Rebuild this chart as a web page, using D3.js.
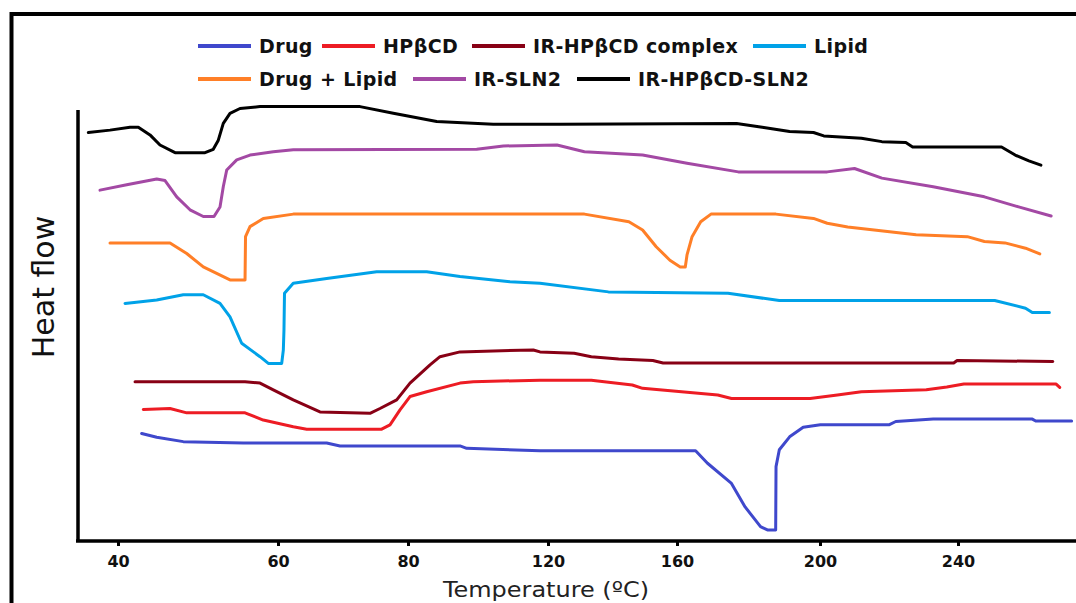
<!DOCTYPE html>
<html>
<head>
<meta charset="utf-8">
<script src="https://cdn.jsdelivr.net/npm/d3@7"></script>
<style>
  body { margin: 0; background: #fff; }
  svg { display: block; font-family: "DejaVu Sans", sans-serif; }
</style>
</head>
<body>
<svg id="dsc"></svg>
<script>
// tick labels on the temperature axis (spacing on the original figure is not even)
const tickTemps = [40, 60, 80, 120, 160, 200, 240];

// Drug
const drugT  = [42.96, 44.84, 48.16, 55.66, 67.49, 69.54, 94.86, 96.77, 117.71, 165.2, 168.53, 175.24, 179.05, 183.36, 185.29, 187.6, 187.7, 188.62, 191.5, 195.3, 200.09, 219.97, 221.97, 232.81, 261.54, 262.52, 272.93];
const drugHF = [2.24, 2.16, 2.07, 2.04, 2.04, 1.98, 1.98, 1.93, 1.88, 1.88, 1.62, 1.20, 0.71, 0.30, 0.23, 0.23, 1.55, 1.90, 2.17, 2.37, 2.42, 2.42, 2.49, 2.54, 2.54, 2.50, 2.50];

// HPβCD
const hpT  = [43.16, 46.5, 48.59, 55.88, 58.16, 62.35, 64.42, 75.95, 77.23, 78.77, 80.57, 85.34, 94.86, 98.66, 117.71, 133.43, 146.14, 149.33, 171.41, 175.24, 197.23, 205.04, 212.0, 230.81, 236.75, 241.7, 268.45, 269.48];
const hpHF = [2.74, 2.76, 2.67, 2.67, 2.52, 2.38, 2.33, 2.33, 2.42, 2.73, 3.01, 3.11, 3.29, 3.32, 3.35, 3.35, 3.25, 3.18, 3.04, 2.97, 2.97, 3.04, 3.11, 3.15, 3.21, 3.27, 3.27, 3.20];

// IR-HPβCD complex
const complexT  = [42.13, 55.88, 57.75, 59.41, 62.35, 66.46, 74.15, 75.69, 78.26, 80.57, 86.29, 89.14, 94.86, 115.8, 117.71, 128.12, 133.43, 141.89, 152.5, 155.69, 238.75, 239.74, 267.48];
const complexHF = [3.32, 3.32, 3.29, 3.15, 2.94, 2.69, 2.66, 2.76, 2.94, 3.29, 3.67, 3.84, 3.94, 3.98, 3.94, 3.91, 3.84, 3.79, 3.76, 3.71, 3.71, 3.76, 3.74];

// Lipid
const lipidT  = [40.88, 44.84, 48.16, 50.66, 52.75, 54.0, 55.46, 57.75, 58.79, 60.57, 60.82, 60.92, 61.0, 62.35, 67.49, 75.18, 85.34, 94.86, 109.14, 117.71, 138.73, 174.27, 188.62, 250.64, 259.57, 261.54, 266.49];
const lipidHF = [4.95, 5.02, 5.13, 5.13, 4.95, 4.67, 4.12, 3.84, 3.70, 3.70, 3.98, 4.40, 5.16, 5.37, 5.47, 5.61, 5.61, 5.51, 5.40, 5.37, 5.19, 5.16, 5.01, 5.01, 4.85, 4.76, 4.76];

// Drug + Lipid
const mixT  = [39.0, 46.5, 48.59, 50.66, 54.0, 55.88, 55.94, 56.5, 58.16, 62.35, 123.72, 131.29, 145.09, 149.33, 153.55, 157.8, 160.9, 162.32, 162.8, 164.22, 166.63, 169.51, 187.66, 198.18, 202.09, 208.03, 227.86, 242.72, 247.65, 253.62, 259.57, 263.71];
const mixHF = [6.21, 6.21, 5.99, 5.71, 5.44, 5.44, 6.34, 6.55, 6.72, 6.81, 6.81, 6.81, 6.65, 6.48, 6.13, 5.85, 5.71, 5.71, 5.96, 6.34, 6.65, 6.81, 6.81, 6.72, 6.62, 6.54, 6.38, 6.34, 6.24, 6.21, 6.10, 5.98];

// IR-SLN2
const slnT  = [37.75, 41.09, 44.84, 45.88, 47.34, 49.0, 50.66, 52.0, 52.75, 53.16, 53.59, 54.84, 56.5, 59.41, 62.35, 99.63, 107.23, 122.79, 131.29, 149.33, 162.8, 177.15, 202.09, 210.0, 217.94, 232.81, 247.65, 257.57, 266.99];
const slnHF = [7.31, 7.42, 7.54, 7.51, 7.17, 6.90, 6.76, 6.76, 6.96, 7.38, 7.73, 7.94, 8.04, 8.11, 8.15, 8.16, 8.23, 8.25, 8.11, 8.04, 7.87, 7.69, 7.69, 7.76, 7.56, 7.38, 7.17, 6.96, 6.77];

// IR-HPβCD-SLN2
const cdSlnT  = [36.29, 39.0, 41.5, 42.54, 44.0, 45.25, 47.13, 50.88, 51.91, 52.54, 53.16, 54.0, 55.25, 57.75, 72.62, 77.74, 88.2, 104.37, 123.72, 176.67, 183.83, 191.5, 198.18, 201.1, 212.0, 217.94, 224.87, 226.84, 252.61, 256.58, 260.55, 264.03];
const cdSlnHF = [8.51, 8.56, 8.62, 8.62, 8.46, 8.25, 8.09, 8.09, 8.16, 8.35, 8.70, 8.91, 9.01, 9.05, 9.05, 8.91, 8.74, 8.68, 8.68, 8.70, 8.62, 8.53, 8.51, 8.44, 8.39, 8.32, 8.30, 8.21, 8.21, 8.04, 7.92, 7.83];

const series = [
  {name: "Drug", t: drugT, hf: drugHF, color: "#3f48cc"},
  {name: "HPβCD", t: hpT, hf: hpHF, color: "#ed1c24"},
  {name: "IR-HPβCD complex", t: complexT, hf: complexHF, color: "#880015"},
  {name: "Lipid", t: lipidT, hf: lipidHF, color: "#00a2e8"},
  {name: "Drug + Lipid", t: mixT, hf: mixHF, color: "#ff7f27"},
  {name: "IR-SLN2", t: slnT, hf: slnHF, color: "#a349a4"},
  {name: "IR-HPβCD-SLN2", t: cdSlnT, hf: cdSlnHF, color: "#000000"}
];

const W = 1076, H = 603;
const margin = {top: 110, right: 0, bottom: 62, left: 78};
const height = H - margin.top - margin.bottom;

const svg = d3.select("#dsc")
  .attr("width", W)
  .attr("height", H);

// outer frame
svg.append("rect")
  .attr("x", 11.5)
  .attr("y", 14)
  .attr("width", W + 20)
  .attr("height", H + 20)
  .attr("fill", "none")
  .attr("stroke", "#000")
  .attr("stroke-width", 4);

const g = svg.append("g")
  .attr("transform", "translate(" + margin.left + "," + margin.top + ")");

// the temperature ticks are not evenly spaced, so a piecewise scale follows them
const x = d3.scaleLinear()
  .domain(tickTemps)
  .range([40, 200, 330, 470, 599, 742, 880]);

const y = d3.scaleLinear()
  .domain([0, 9])
  .range([height, -1]);

const line = d3.line()
  .x(d => x(d.t))
  .y(d => y(d.hf));

// axes
g.append("line")
  .attr("x1", 0).attr("x2", 0)
  .attr("y1", 0).attr("y2", height)
  .attr("stroke", "#000")
  .attr("stroke-width", 3.5);

g.append("line")
  .attr("x1", -2).attr("x2", W)
  .attr("y1", height).attr("y2", height)
  .attr("stroke", "#000")
  .attr("stroke-width", 3.5);

const xAxis = g.append("g")
  .attr("transform", "translate(0," + height + ")")
  .call(d3.axisBottom(x).tickValues(tickTemps).tickSize(5).tickPadding(10).tickSizeOuter(0));

xAxis.select(".domain").remove();
xAxis.selectAll(".tick line")
  .attr("stroke", "#000")
  .attr("stroke-width", 3);
xAxis.selectAll(".tick text")
  .attr("fill", "#111")
  .attr("font-family", "DejaVu Sans, sans-serif")
  .attr("font-weight", "bold")
  .attr("font-size", "16px");

// axis titles
svg.append("text")
  .attr("x", 546)
  .attr("y", 597)
  .attr("text-anchor", "middle")
  .attr("font-size", "21px")
  .attr("textLength", 206)
  .attr("lengthAdjust", "spacingAndGlyphs")
  .attr("fill", "#222")
  .text("Temperature (ºC)");

svg.append("text")
  .attr("transform", "translate(54,287) rotate(-90)")
  .attr("text-anchor", "middle")
  .attr("font-size", "30px")
  .attr("fill", "#111")
  .text("Heat flow");

// curves
g.selectAll(".curve")
  .data(series)
  .join("path")
    .attr("class", "curve")
    .attr("fill", "none")
    .attr("stroke", d => d.color)
    .attr("stroke-width", 3)
    .attr("stroke-linejoin", "round")
    .attr("stroke-linecap", "round")
    .attr("d", d => line(d.t.map((t, i) => ({t: t, hf: d.hf[i]}))));

// legend, two rows
const legendPos = [
  [198, 46], [322, 46], [472, 46], [753, 46],
  [198, 79], [413, 79], [577, 79]
];

const legend = svg.append("g")
  .selectAll("g")
  .data(series)
  .join("g")
    .attr("transform", (d, i) => "translate(" + legendPos[i][0] + "," + legendPos[i][1] + ")");

legend.append("line")
  .attr("x1", 0).attr("x2", 53)
  .attr("stroke", d => d.color)
  .attr("stroke-width", 4);

legend.append("text")
  .attr("x", 61)
  .attr("dy", "0.36em")
  .attr("font-size", "19px")
  .attr("letter-spacing", "0.4px")
  .attr("font-weight", "bold")
  .attr("fill", "#111")
  .text(d => d.name);
</script>
</body>
</html>
